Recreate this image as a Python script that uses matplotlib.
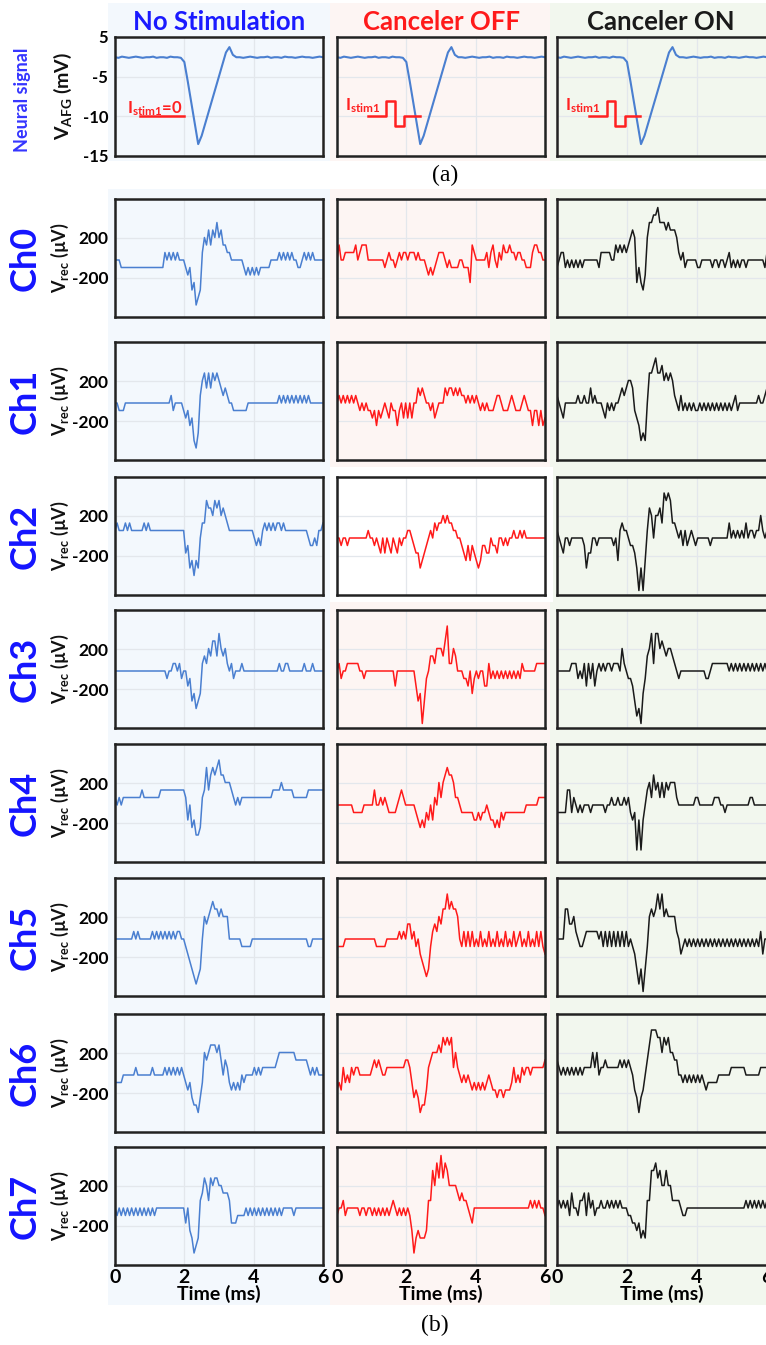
import numpy as np
import matplotlib.pyplot as plt
from matplotlib.patches import Rectangle

W, H = 766, 1345

# ADC codes -> uV
LSB = 75.0
BASE = -20.0

# neural signal (top row), sampled every 0.1 ms, drawn on the -15..5 axis
neural_v = [1.6, 1.5, 1.7, 1.6, 1.5, 1.6, 1.7, 1.6, 1.5, 1.6, 1.6, 1.7, 1.5, 1.6, 1.6, 1.5, 1.7, 1.6, 1.6, 1.5,
            0.8, -2.5, -6.0, -9.5, -13.0, -11.6, -9.6, -7.6, -5.6, -3.6, -1.6, 0.4, 2.4, 3.3, 2.0, 1.6,
            1.6, 1.5, 1.6, 1.7, 1.6, 1.5, 1.6, 1.6, 1.7, 1.5, 1.6, 1.6, 1.5, 1.7, 1.6, 1.6, 1.5, 1.6, 1.7, 1.6,
            1.6, 1.5, 1.6, 1.7, 1.6]
neural_ticks = ['5', '-5', '-10', '-15']

# stimulus sketch
stim_t = [0.90, 1.42, 1.42, 1.67, 1.67, 1.93, 1.93, 2.38]
stim_y = [-8.2, -8.2, -5.8, -5.8, -10.0, -10.0, -8.2, -8.2]
stim_zero_t = [0.72, 2.0]
stim_zero_y = [-8.3, -8.3]

# recorded channels, ADC codes sampled every 0.06 ms
ch0_nostim = [0, 0, 0, -1, -1, -1, -1, -1, -1, -1, -1, -1, -1, -1, -1, -1, -1, -1, -1, -1, -1, -1, -1, -1,
              1, 0, 1, 0, 1, 0, 1, 0, 0, 0, -1, -2, -1, -4, -3, -6, -5, -4,
              1, 3, 2, 4, 2, 4, 3, 5, 3, 4, 2, 2, 1, 1, 0, 0, 0, 0, 0, 0,
              -1, -2, -1, -2, -1, -2, -1, -2, -1, -1, -1, -1, -1, 0, 0, 0, 0,
              1, 0, 1, 0, 1, 0, 1, 0, 0, -1, -1, 0, 1, 0, 1, 0, 1, 0, 0, 0, 0, 0]
ch0_off = [0, 2, 0, 0, 1, 1, 1, 1, 1, 2, 0, 1, 2, 2, 2, 0, 0, 0, 0, 0, 0, 0, 0,
           -1, 0, 1, 0, 0, -1, 0, 1, 0, 1, 1, 0, 1, 1, 1, 0, 1, 0, 0, 0,
           -1, -2, -1, -2, -1, 0, 1, 1, 1, 0, -1, 0, -1, -1, -1, -1, 0, 0,
           -1, -1, -1, -3, 2, 1, 0, 0, 0, 0, 0, 1, -1, 1, 2, 0, -1, 1, 0,
           2, 1, 1, 2, 1, 1, 0, 1, 1, 0, 0, -1, -1, -1, 1, 2, 2, 1, 1, 0, 0]
ch0_on = [-1, 0, 1, 1, -1, 0, -1, 0, -1, 0, -1, 0, -1, 0, 0, 0, 0, 0, 0, 0,
          -1, 1, 1, 1, 1, 1, 0, 0, 2, 1, 2, 1, 2, 1, 2, 3, 4, 3,
          -3, -1, -3, -4, -2, 3, 5, 5, 6, 6, 7, 5, 5, 5, 4, 5, 4, 4, 4, 3,
          1, 0, 1, -1, 0, 0, 0, 0, 0, -1, -1, 0, 0, 0, 0, 0,
          -1, 0, 0, -1, 0, 0, -1, 0, 1, -1, 0, -1, 0, -1, 0, 0, -1, 0,
          0, 0, 0, 0, 0, 0, 0, -1, 1]

ch1_nostim = [0, 0, -1, -1, -1, 0, 0, 0, 0, 0, 0, 0, 0, 0, 0, 0, 0, 0, 0, 0, 0, 0, 0, 0, 0, 0, 0,
              1, -1, 0, 0, 0, 0, -1, -2, -1, -3, -2, -5, -6, -4,
              1, 3, 4, 2, 4, 2, 4, 3, 4, 3, 2, 1, 2, 1, 0, 0,
              -1, -1, -1, -1, -1, -1, -1, 0, 0, 0, 0, 0, 0, 0, 0, 0, 0, 0, 0, 0, 0, 0,
              1, 0, 1, 0, 1, 0, 1, 0, 1, 0, 1, 0, 1, 0, 1, 0, 0, 0, 0, 0, 0, 0]
ch1_off = [0, 1, 0, 1, 0, 1, 0, 1, 0, 1, 0, -1, 0, -1, 0, -1, -1, -2, -1, -3, -1,
           -2, -1, 0, -1, -2, 0, -1, -1, -3, -1, 0, -2, 0, -2, 0, -2, 0, 0, 2, 1,
           2, 1, 0, 0, -1, 0, -2, -1, 0, 0, 0, 2, 1, 2, 2, 1, 2, 1, 2, 1,
           1, 0, 1, 0, 1, 0, 1, 0, -1, 0, -1, 0, -1, -1, -1, 0, 1, 1, 0, -1,
           -1, -1, 0, 1, 0, -1, -1, -1, 0, 1, 0, -1, -1, -3, -1, -1, -3, -1, -3, -2]
ch1_on = [1, 0, -1, -2, 0, 0, 0, 0, 0, 0, 1, 0, 0, 1, 0, 0, 2, 0, 1, 0,
          0, 0, -1, -2, 0, -1, 0, -1, 0, 0, 1, 2, 1, 2, 3, 3, 2, -1, -2, -3,
          -5, -4, -5, 0, 4, 4, 5, 6, 4, 4, 5, 3, 4, 3, 4, 3, 1, 0, -1, 1,
          -1, 0, -1, 0, -1, 0, -1, -1, 0, -1, 0, -1, 0, -1, 0, -1, 0, -1, 0, -1,
          0, -1, 0, -1, 0, 1, -1, 0, 0, 0, 0, 0, 0, 0, 0, 0, 1, 0, 0, 1, 2]

ch2_nostim = [1, 2, 1, 1, 1, 2, 1, 2, 1, 1, 1, 1, 1, 1, 2, 1, 2, 1,
              1, 1, 1, 1, 1, 1, 1, 1, 1, 1, 1, 1, 1, 1, 1, 1,
              -2, -1, -4, -3, -5, -3, -4, 0, 2, 2, 5, 4, 4, 3, 5, 4, 5, 3, 4, 3, 2, 1,
              1, 1, 1, 1, 1, 1, 1, 1, 1, 1, 1,
              0, -1, 0, -1, 1, 2, 1, 2, 1, 2, 1, 2, 2, 1, 2, 1,
              1, 1, 1, 1, 1, 1, 1, 1, 1, 1, 0, -1, -1, 0, -1, 1, 1, 2]
ch2_off = [0, 0, -1, 0, 0, -1, 0, 0, 0, 0, 0, 0, 0, 0, 0,
           1, 0, 0, -1, 0, -1, -2, 0, -2, 0, -1, -2, 0, -1, -2, 0, -1, 0, 0,
           1, 1, 0, -1, -2, -2, -4, -3, -2, -1, 0, 1, 0, 2, 1, 2, 2, 3, 2, 3, 2, 2, 1, 1,
           0, 0, -1, -2, -3, -1, -3, -1, -2, -3, -4, -3, -1, -1, -2, -2,
           0, -1, -1, -2, 0, 0, -1, 0, -1, 0, 0, 1, 0, 0, 1, 0, 1, 0,
           0, 0, 0, 0, 0, 0, 0, 0, 0]
ch2_on = [1, 0, -1, -2, 0, 0, -1, 0, 0, 0, 0, 0, 0, -1, -4, -2, -2, 0, 0, -1, 0,
          0, 0, 0, 0, 0, 0, -1, 0, -3, 1, 2, 1, 1, 0, -1, -1,
          -2, -4, -7, -4, -7, -3, 1, 4, 3, 0, 3, 3, 4, 2, 6, 5, 6, 5, 2, 2, 1,
          0, 1, -1, 1, -1, 0, 1, 0, -1, 0, 0, 0, 0, 0, 0, -1, 0, 0, 0, 0, 0, 0, 0, 0,
          2, 0, 1, 0, 1, 0, 1, 0, 2, 0, 1, 1, 0, 1, 1, 3, 1, 0, 1]

ch3_nostim = [0, 0, 0, 0, 0, 0, 0, 0, 0, 0, 0, 0, 0, 0, 0, 0, 0, 0, 0, 0, 0, 0, 0, 0, 0,
              -1, 0, 0, 1, 1, 0, 1, -1, 0, 0, -2, -1, -4, -3, -5, -4, -3,
              1, 2, 1, 3, 2, 4, 4, 2, 5, 3, 2, 3, 1, 0, 1, -1, 0, 0, 0, 1,
              0, 0, 0, 0, 0, 0, 0, 0, 0, 0, 0, 0, 0, 0, 0, 0, 0,
              1, 0, 0, 1, 1, 0, 0, 0, 0, 0, 0, 0, 1, 0, 0, 0, 1, 0, 0, 0, 0, 0]
ch3_off = [0, 1, -1, 0, 0, 1, 1, 1, 1, 1, 1, 0, 0, -1, 0,
           0, 0, 0, 0, 0, 0, 0, 0, 0, 0, 0, 0, 0, -2, 0, 0, 0, 0, 0, 0, 0, 0, 0,
           -2, -4, -3, -7, -4, -1, 0, 2, 2, 1, 3, 3, 3, 2, 4, 6, 1, 1, 3, 2,
           0, 0, 0, -1, -1, -2, 0, -3, -1, 0, -1, 0, 0, -2, -2,
           1, -1, 0, -1, 0, -1, 0, -1, 0, -1, 0, -1, 0, -1, 0, -1, 1, 0,
           0, 0, 0, 0, 0, 1, 1, 1, 1, 1]
ch3_on = [0, 0, 0, 0, 0, 0, 0,
          1, 1, 1, -1, 0, -1, 1, -2, 1, -1, 1, -2, 0, 1, 0, 1, 0, 1, 1, 0, 1, 1, 1, 0,
          3, 1, 0, -1, -1, -2, -4, -6, -5, -7, -3, -1,
          2, 3, 5, 1, 5, 5, 3, 4, 3, 2, 3, 3, 2, 1, 0, -1, 0,
          0, 0, 0, 0, 0, 0, 0, 0, 0, 0, 0, -1, -1, 0, 1, 1, 1, 1, 1, 1, 1, 1,
          0, 1, 0, 1, 0, 1, 0, 1, 0, 1, 0, 1, 0, 1, 0, 1, 0, 1, 0]

ch4_nostim = [1, 0, 1, 0, 1, 1, 1, 1, 1, 1, 1, 1, 1, 2, 1, 1, 1, 1, 1, 1, 1, 1,
              2, 2, 2, 2, 2, 2, 2, 2, 2, 2, 2, 2,
              1, -2, 0, -3, -2, -4, -4, -3,
              1, 2, 5, 2, 4, 5, 4, 5, 6, 4, 4, 3, 3, 3, 2, 1, 0, 1, 0, 1,
              1, 1, 1, 1, 1, 1, 1, 1, 1, 1, 1, 1, 1, 1, 2, 2, 2, 2, 3, 2, 2, 2, 2, 2,
              1, 1, 1, 1, 1, 1, 1, 2, 2, 2, 2, 2, 2, 2, 2]
ch4_off = [0, 0, 0, 0, 0, 0, 0, 0, -1, -1, -1, -1, -1, 0, 0, 0, 0, 0,
           2, 0, 0, 1, 0, 1, 0, -1, -1, -1, -1, 0, 1, 2, 1, 0, 0, 0, 0, 0,
           -1, -2, -3, -2, -3, -1, -2, 0, -2, 1, 0, 3, 1, 3, 4, 5, 4, 4, 3, 1, 1, 0,
           -1, -1, -1, -1, -1, -1,
           -2, -2, -1, -2, -1, -1, 0, -1, -2, -2, -3, -2, -3, -1, -2, -1, -1,
           -1, -1, -1, -1, -1, -1, -1, -1, 0, 0, 0, 0, 0, 0, 1, 1, 1, 1]
ch4_on = [-1, -1, -1, -1, -1, 2, 2, -1, 1, 0, -1, 0, -1, 0, 0, 0, -1, 0, 0, 0, 0, 0, 0,
          -1, 0, 0, 1, 0, 0, 1, 0, 0, 1, 0, 1,
          -1, -2, -1, -6, -2, -6, -2,
          0, 2, 3, 1, 4, 2, 3, 1, 3, 1, 3, 2, 3, 3, 3, 1, 0,
          0, 0, 0, 0, 0, 0, 0, 1, 1, 0, 0, 0, 0, 0, 0, 0,
          1, 1, 1, 0, 0, -1, 0, 0, 0, 0, 0, 0, 0, 0, 0, 0, 0, 1, 1, 0, 0, 0, 0, 0, 0, 0]

ch5_nostim = [0, 0, 0, 0, 0, 0, 0, 0, 0, 1, 0, 1, 0, 0, 0, 0, 0, 0,
              1, 0, 1, 0, 1, 0, 1, 0, 1, 0, 1, 0, 1, 1, 0, 0,
              -1, -2, -3, -4, -5, -6, -5, -4,
              0, 3, 2, 3, 4, 5, 4, 4, 3, 4, 3, 3, 3, 0, 0, 0, 0, 0, 0,
              -1, -1, -1, -1, -1,
              0, 0, 0, 0, 0, 0, 0, 0, 0, 0, 0, 0, 0, 0, 0, 0, 0, 0, 0, 0, 0, 0, 0, 0, 0, 0, 0,
              -1, -1, 0, 0, 0, 0, 0, 0]
ch5_off = [-1, -1, -1, -1, 0, 0, 0, 0, 0, 0, 0, 0, 0, 0, 0, 0, 0, 0, 0,
           -1, -1, -1, -1, -1, 0, 0, 0, 0, 0, 0,
           1, 0, 1, 0, 2, 2, 0, 1, -1, 0, -2, -3, -4, -5, -4, -1, 1, 2, 1, 3,
           2, 4, 4, 6, 4, 5, 4, 4, 3, 0,
           -1, 1, -1, 1, -1, 1, -1, 0, -1, 1, -1, 0, -1, 1, -1, 0, -1, 1, -1, 0,
           -1, 1, -1, 0, -1, 1, -1, 0, 1, -1, 0, -1, 1, -1, 0, -1, 1, -1, 1, -1, -2]
ch5_on = [0, 0, 0, 0, 4, 4, 2, 2, 3, 1, 0, -1, -1, 0, 1, 1, 1, 1, 1, 1,
          0, 1, -1, 1, -1, 1, -1, 1, -1, 1, -1, 1, -1, 1, -1, 0, -1,
          -2, -4, -6, -4, -7, -4, -1, 3, 4, 3, 4, 6, 4, 6, 3, 4, 3, 3, 3, 3, 1, 0,
          -2, -1, 0, -1, 0, -1, 0, -1, 0, -1, 0, -1, 0, -1, 0, -1, 0, -1, 0, -1,
          0, -1, 0, -1, 0, -1, 0, -1, 0, -1, 0, -1, 0, -1, 0, -1, 0, -1,
          1, -2, 0, 0]

ch6_nostim = [-1, -1, -1, -1, 0, 0, 0, 0, 0, 0, 1, 0, 0, 0, 0, 0, 0, 0, 1, 0, 0, 0, 0, 0,
              1, 0, 1, 0, 1, 0, 1, 0, 1, 0,
              -1, -2, -1, -3, -4, -4, -5, -3, -1,
              3, 2, 3, 4, 4, 4, 3, 4, 2, 0, 2, 1, -1, -2, -1, -2, -1, -2, 0, -1, 0, 0, 0, 0,
              1, 0, 1, 0, 1, 1, 1, 1, 1, 1, 1, 2, 3, 3, 3, 3, 3, 3, 3, 3,
              2, 2, 2, 2, 2, 2, 1, 0, 1, 0, 1, 0, 0, 0]
ch6_off = [-2, -1, -2, 1, -1, 0, -1, 1, 0, 1, 1, 0, 0, 0, 0, 0, 0,
           1, 2, 1, 2, 1, 0, 0, 1, 1, 1, 1, 1, 1, 1, 1, 1,
           2, 2, 1, -1, -3, -2, -3, -5, -4, -4, -2, 1, 2, 3, 3, 3, 4, 3, 5, 4, 5, 4, 5, 1, 3, 1,
           0, -1, 0, -1, 0, -1, -2, -1, -2, -1, -2, -1, -2, -1, 0, -1, -2, -2, -3, -2, -2, -3, -2, -2, -2, -1,
           1, -1, 0, -1, 1, 0, 1, 1, 0, 1, 1, 1, 1, 1, 1, 2]
ch6_on = [2, 1, 0, 1, 0, 1, 0, 1, 0, 1, 0, 1, 0, 1, 1, 1, 1,
          3, 1, 3, 0, 1, 1, 2, 1, 1, 1, 1, 1, 1, 2, 1, 2, 1, 2, 1,
          0, -2, -3, -5, -3, -2, 0, 2, 4, 6, 6, 6, 5, 5, 3, 5, 4, 5, 3, 3, 2, 2, 0, 0,
          -1, 0, -1, 0, -1, 0, -1, 0, -1, 0, -1, -2, -1, -1, -1, -1, -1,
          0, 0, 0, 0, 0, 0, 1, 1, 1, 1, 1, 1, 1, 0, 0, 0, 0, 0, 0, 0, 1, 1, 1, 1]

ch7_nostim = [0, -1, 0, -1, 0, -1, 0, -1, 0, -1, 0, -1, 0, -1, 0, -1, 0, -1, 0, -1, 0,
              0, 0, 0, 0, 0, 0, 0, 0, 0, 0, 0, 0, 0,
              -2, 0, -3, -4, -6, -5, -4,
              1, 2, 4, 3, 1, 4, 3, 4, 4, 3, 3, 2, 2, 2, 1,
              -2, -2, -2, -1, -1, -1, -1,
              0, -1, 0, -1, 0, -1, 0, -1, 0, -1, 0, -1, 0, -1, 0, -1, 0, -1, 0,
              0, 0, 0, 0, -1, 0, 0, 0, 0, 0, 0, 0, 0, 0, 0, 0, 0, 0, 0]
ch7_off = [-1, 0, 0, 1, -1, 0, 0, 0, 0, 0, 0, -1, 0, 0, -1, 0, 0, -1, 0, -1, 0,
           -1, 0, -1, 0, -1, 0, 1, 0, -1, 0, -1, 0, -1, 0, -1,
           -3, -6, -4, -3, -4, -4, -4, -3, 1, 1, 5, 3, 6, 4, 7, 4, 6, 5, 3, 3, 3, 3, 2, 1, 2, 1, 1, 0, -1, -2, 0,
           0, 0, 0, 0, 0, 0, 0, 0, 0, 0, 0, 0, 0, 0, 0, 0, 0, 0, 0, 0, 0, 0, 0, 0, 0, 0,
           1, 0, 1, 0, 1, 0, 0, -1]
ch7_on = [0, 1, 0, 1, 0, 1, -1, 2, 0, 0, -1, 1, 1, 2, -1, 2, 0, 1, -1, 0, 0, 1, 0, 0, 1, 0, 1, 0, 1, 0, 1, 0, 0, 0,
          -1, -1, -2, -2, -3, -2, -4, -3, -4,
          1, 1, 5, 5, 6, 4, 5, 3, 3, 5, 3, 3, 1, 1, 1, 1, 0, -1, -1, 0, 0, 0,
          0, 0, 0, 0, 0, 0, 0, 0, 0, 0, 0, 0, 0, 0, 0, 0, 0, 0, 0, 0, 0, 0, 0, 0, 0,
          1, 0, 1, 0, 1, 0, 1, 0, 1, 0, 1]

channel_names = ['Ch0', 'Ch1', 'Ch2', 'Ch3', 'Ch4', 'Ch5', 'Ch6', 'Ch7']
col_titles = ['No Stimulation', 'Canceler OFF', 'Canceler ON']
x_ticks = [0, 2, 4, 6]

rows = [[ch0_nostim, ch0_off, ch0_on], [ch1_nostim, ch1_off, ch1_on],
        [ch2_nostim, ch2_off, ch2_on], [ch3_nostim, ch3_off, ch3_on],
        [ch4_nostim, ch4_off, ch4_on], [ch5_nostim, ch5_off, ch5_on],
        [ch6_nostim, ch6_off, ch6_on], [ch7_nostim, ch7_off, ch7_on]]

# styling
plt.rcParams['font.family'] = ['Lato', 'DejaVu Sans']
plt.rcParams['axes.unicode_minus'] = False
plt.rcParams['mathtext.fontset'] = 'custom'
plt.rcParams['mathtext.rm'] = 'Lato:bold'
plt.rcParams['mathtext.it'] = 'Lato:bold'
plt.rcParams['mathtext.bf'] = 'Lato:bold'

title_colors = ['#1a1aff', '#ff1a1a', '#1a1a1a']
line_colors = ['#4a7fd0', '#ff1a1a', '#1a1a1a']
bg_colors = ['#f3f8fd', '#fdf5f3', '#f2f7ee']
bg_x = [(108, 330), (330, 550), (550, 766)]
col_left = [115, 337, 557]
col_w = 208
row_top = [199, 342, 477, 610, 744, 878, 1014, 1147]
row_h = 118
grid_c = '#e3e7ec'

fig = plt.figure(figsize=(W / 100, H / 100), dpi=100)


def fig_rect(x0, y0, w, h, color):
    fig.patches.append(Rectangle((x0 / W, 1 - (y0 + h) / H), w / W, h / H,
                                 transform=fig.transFigure, facecolor=color,
                                 edgecolor='none', zorder=-5))


def px_axes(x0, y0, w, h):
    ax = fig.add_axes([x0 / W, 1 - (y0 + h) / H, w / W, h / H])
    ax.set_zorder(2)
    return ax


def style(ax):
    ax.set_facecolor('none')
    ax.set_xlim(0, 6)
    ax.set_xticks(x_ticks)
    ax.grid(True, color=grid_c, lw=0.9)
    ax.set_axisbelow(True)
    for s in ax.spines.values():
        s.set_linewidth(1.8)
        s.set_color('#222222')
    ax.tick_params(length=0, pad=5, labelsize=12.5)
    for lab in ax.get_xticklabels() + ax.get_yticklabels():
        lab.set_fontweight('bold')


# background blocks
for (x0, x1), c in zip(bg_x, bg_colors):
    fig_rect(x0, 3, x1 - x0, 158, c)
    fig_rect(x0, 189, x1 - x0, 1116, c)
fig_rect(330, 467, 223, 135, 'white')

# top row: neural signal
neural_t = np.linspace(0, 6, len(neural_v))
for j in range(3):
    ax = px_axes(col_left[j], 37, col_w + (2 if j == 2 else 0), 119)
    ax.plot(neural_t, neural_v, color='#4a7fd0', lw=1.5)
    ax.set_ylim(-15, 5)
    ax.set_yticks(np.linspace(5, -15, 4))
    style(ax)
    ax.set_xticklabels([])
    if j == 0:
        ax.set_yticklabels(neural_ticks)
        for lab in ax.get_yticklabels():
            lab.set_fontweight('bold')
            lab.set_fontsize(12)
        ax.plot(stim_zero_t, stim_zero_y, color='#ff2020', lw=1.8)
        ax.text(0.34, -7.0, r'I$_{\mathrm{stim1}}$=0', color='#ff2020',
                fontsize=12, fontweight='bold', va='center')
    else:
        ax.set_yticklabels([])
        ax.plot(stim_t, stim_y, color='#ff2020', lw=1.8)
        ax.text(0.24, -6.6, r'I$_{\mathrm{stim1}}$', color='#ff2020',
                fontsize=12, fontweight='bold', va='center')
    fig.text((col_left[j] + col_w / 2) / W, 1 - 22 / H, col_titles[j],
             color=title_colors[j], fontsize=18.5, fontweight='bold',
             ha='center', va='center')

fig.text(23 / W, 1 - 100 / H, 'Neural signal', color='#3535ff', fontsize=13,
         fontweight='bold', rotation=90, ha='center', va='center')
fig.text(63 / W, 1 - 96 / H, r'V$_{\mathrm{AFG}}$ (mV)', color='#111111',
         fontsize=14, fontweight='bold', rotation=90, ha='center', va='center')
fig.text(445 / W, 1 - 175 / H, '(a)', family='Liberation Serif', fontsize=17,
         ha='center', va='center')

# channel rows
for r, traces in enumerate(rows):
    for j in range(3):
        w = col_w + (2 if j == 2 else 0)
        ax = px_axes(col_left[j], row_top[r], w, row_h)
        codes = np.array(traces[j], dtype=float)
        t = np.linspace(0, 6, len(codes))
        ax.plot(t, BASE + LSB * codes, color=line_colors[j], lw=1.1)
        ax.set_ylim(-590, 590)
        ax.set_yticks([200, -200])
        style(ax)
        if r == 2 and j == 1:
            ax.set_facecolor('white')
        if j != 0:
            ax.set_yticklabels([])
        if r != len(rows) - 1:
            ax.set_xticklabels([])
        else:
            ax.tick_params(axis='x', pad=3, labelsize=14)
            ax.set_xlabel('Time (ms)', fontsize=14, fontweight='bold', labelpad=-1)
    yc = 1 - (row_top[r] + row_h / 2) / H
    fig.text(25 / W, yc, channel_names[r], color='#1414ff', fontsize=26,
             fontweight='bold', rotation=90, ha='center', va='center')
    fig.text(60 / W, yc, r'V$_{\mathrm{rec}}$ (µV)', color='#111111', fontsize=13,
             fontweight='bold', rotation=90, ha='center', va='center')

fig.text(435 / W, 1 - 1325 / H, '(b)', family='Liberation Serif', fontsize=17,
         ha='center', va='center')

fig.savefig('out.png', dpi=100)
